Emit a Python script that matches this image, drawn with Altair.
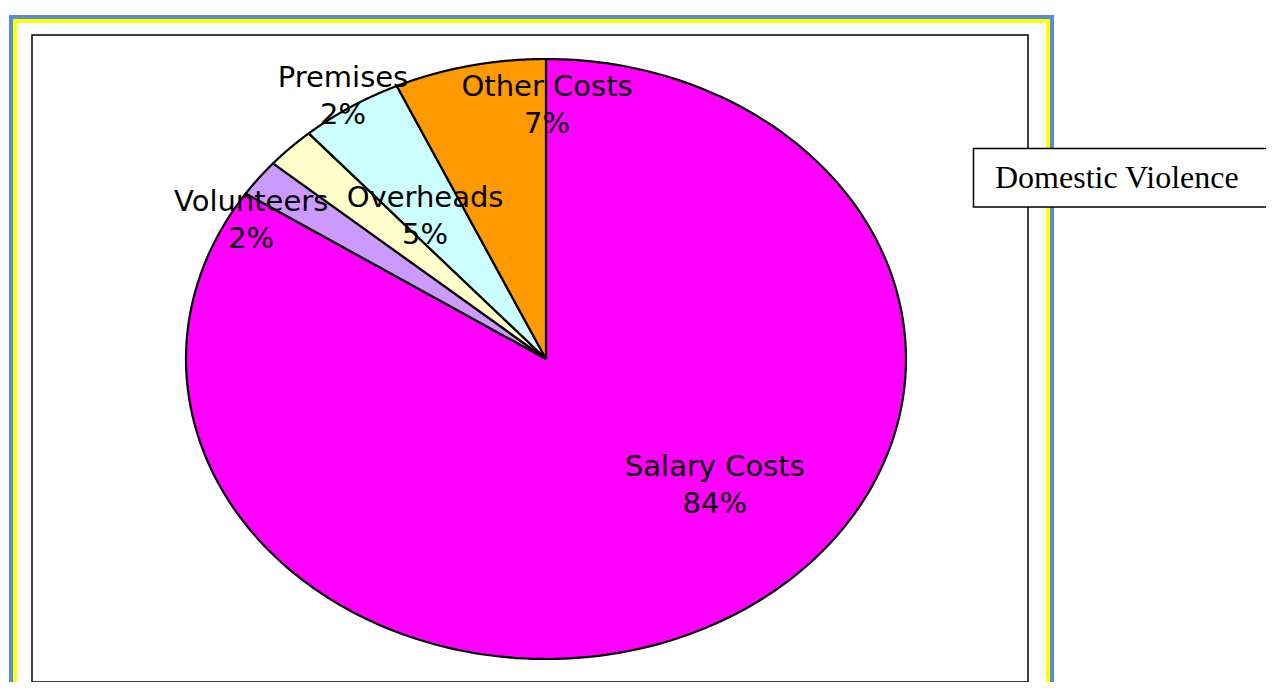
import altair as alt
import pandas as pd

# ---- data ----
categories = ["Salary Costs", "Volunteers", "Premises", "Overheads", "Other Costs"]
values = [84.3, 2.0, 2.25, 4.65, 6.8]
colors = ["#FF00FF", "#CC99FF", "#FFFFCC", "#CCFFFF", "#FF9900"]
chart_label = "Domestic Violence"

# ---- layout (label anchors in pie-radius units, as Excel placed them) ----
label_x = [0.469, -0.819, -0.564, -0.336, 0.003]
label_y = [-0.420, 0.462, 0.877, 0.478, 0.847]

N = 240  # arc resolution

slices = pd.DataFrame({"category": categories, "value": values,
                       "order": list(range(len(categories)))})
labels = pd.DataFrame({"category": categories, "value": values,
                       "lx": label_x, "ly": label_y})

W, H = 996, 647
xs = alt.Scale(domain=[-514 / 360, (W - 514) / 360], nice=False, zero=False)
ys = alt.Scale(domain=[-323 / 300, 324 / 300], nice=False, zero=False)

pie = (
    alt.Chart(slices)
    .transform_joinaggregate(total="sum(value)")
    .transform_window(cum="sum(value)", sort=[alt.SortField("order")])
    .transform_calculate(start="datum.cum - datum.value", seq=f"sequence(-1, {N + 2})")
    .transform_flatten(["seq"], as_=["i"])
    .transform_calculate(
        r=f"(datum.i < 0 || datum.i > {N}) ? 0 : 1",
        t=f"(datum.start + datum.value * clamp(datum.i, 0, {N}) / {N}) / datum.total * 2 * PI",
    )
    .transform_calculate(px="datum.r * sin(datum.t)", py="datum.r * cos(datum.t)")
    .mark_line(stroke="black", strokeWidth=2.2, strokeJoin="round", interpolate="linear")
    .encode(
        x=alt.X("px:Q", scale=xs, axis=None),
        y=alt.Y("py:Q", scale=ys, axis=None),
        detail="category:N",
        order=alt.Order("i:Q"),
        fill=alt.Fill("category:N", scale=alt.Scale(domain=categories, range=colors), legend=None),
    )
)

text = (
    alt.Chart(labels)
    .transform_joinaggregate(total="sum(value)")
    .transform_calculate(txt="[datum.category, format(datum.value / datum.total, '.0%')]")
    .mark_text(font="DejaVu Sans", fontSize=29, lineHeight=37, align="center",
               baseline="middle", color="black", dy=-18)
    .encode(x=alt.X("lx:Q", scale=xs, axis=None), y=alt.Y("ly:Q", scale=ys, axis=None),
            text="txt:N")
)

one = pd.DataFrame({"a": [0]})
frame_blue = alt.Chart(one).mark_rect(fillOpacity=0, stroke="#558ED5", strokeWidth=4).encode(
    x=alt.value(-21), x2=alt.value(1020), y=alt.value(-18), y2=alt.value(720))
frame_yellow = alt.Chart(one).mark_rect(fillOpacity=0, stroke="#FFFF00", strokeWidth=4).encode(
    x=alt.value(-17), x2=alt.value(1016), y=alt.value(-14), y2=alt.value(716))
legend_box = alt.Chart(one).mark_rect(fill="white", stroke="black", strokeWidth=1.5).encode(
    x=alt.value(941.5), x2=alt.value(1300), y=alt.value(113.5), y2=alt.value(172))
legend_text = alt.Chart(pd.DataFrame({"t": [chart_label]})).mark_text(
    font="Liberation Serif", fontSize=32, align="left", baseline="alphabetic", color="black"
).encode(x=alt.value(963), y=alt.value(153), text="t:N")

chart = (
    alt.layer(frame_blue, frame_yellow, pie, text, legend_box, legend_text)
    .properties(width=W, height=H, background="white",
                padding={"left": 24, "top": 27, "right": 238, "bottom": 0},
                autosize=alt.AutoSizeParams(type="none"))
    .configure_view(stroke="black", strokeWidth=1.5)
)

chart.save("out.html", embed_options={"renderer": "svg", "actions": False})
